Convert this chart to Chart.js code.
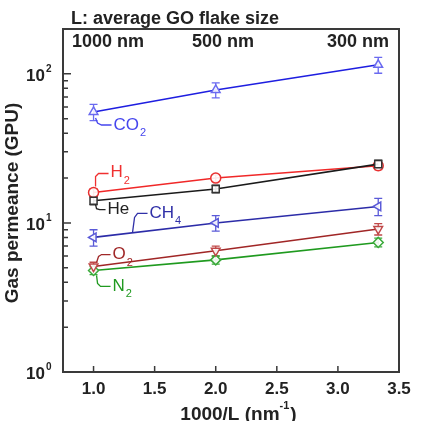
<!DOCTYPE html>
<html>
<head>
<meta charset="utf-8">
<script src="https://cdn.jsdelivr.net/npm/chart.js@4.4.0/dist/chart.umd.min.js"></script>
<style>
  html, body { margin: 0; padding: 0; background: #fff; }
  #wrap { width: 421px; height: 421px; }
</style>
</head>
<body>
<div id="wrap"><canvas id="gasChart" width="421" height="421"></canvas></div>
<script>
// x values: 1000/L for L = 1000, 500, 300 nm
var invL = [1.0, 2.0, 3.33];
var xTicks = [1.0, 1.5, 2.0, 2.5, 3.0, 3.5];
var yTicks = [1, 10, 100];
var flakeLabels = ['1000 nm', '500 nm', '300 nm'];

// permeance (GPU)
var co2 = [55.5, 78, 115];
var h2  = [16.0, 20.0, 24.2];
var he  = [14.1, 16.9, 24.8];
var ch4 = [8.0, 10.0, 12.9];
var o2  = [5.1, 6.5, 9.1];
var n2  = [4.8, 5.65, 7.4];

// error bars (+/- GPU)
var co2Err = [7, 9, 14];
var h2Err  = [0.9, 1.0, 1.4];
var heErr  = [0.9, 1.0, 1.6];
var ch4Err = [1.0, 1.2, 1.7];
var o2Err  = [0.35, 0.5, 0.8];
var n2Err  = [0.3, 0.35, 0.5];

var FONT = '"Liberation Sans", Arial, sans-serif';

function pts(vals) {
    return vals.map(function (v, i) { return { x: invL[i], y: v }; });
}

function series(label, vals, errs, line, mark, style, rot) {
    return {
        label: label,
        data: pts(vals),
        errors: errs,
        borderColor: line,
        borderWidth: 1.6,
        pointStyle: style,
        pointRotation: rot || 0,
        pointRadius: 5,
        pointBorderColor: mark,
        pointBackgroundColor: 'rgba(255,255,255,0.9)',
        pointBorderWidth: 1.5,
        markColor: mark,
        fill: false,
        tension: 0
    };
}

var datasets = [
    series('He', he, heErr, '#1a1a1a', '#333333', 'rect'),
    series('H2', h2, h2Err, '#f02828', '#e83030', 'circle'),
    series('CO2', co2, co2Err, '#1e1ee0', '#6a6af0', 'triangle'),
    series('CH4', ch4, ch4Err, '#2c2ca8', '#5a5ad8', 'triangle', -90),
    series('O2', o2, o2Err, '#a02626', '#c04848', 'triangle', 180),
    series('N2', n2, n2Err, '#1f9a1f', '#3aaa3a', 'rectRot')
];

// little names with leader lines, offsets relative to the first point of each series
var tags = [
    { ds: 2, main: 'CO', sub: '2', color: '#4646ee', path: [[2, 6], [4, 11], [8, 13], [18, 13]], tx: 20, ty: 13 },
    { ds: 1, main: 'H', sub: '2', color: '#f03030', path: [[2, -6], [2, -16], [5, -19], [15, -19]], tx: 17, ty: -20 },
    { ds: 0, main: 'He', sub: '', color: '#222222', path: [[2, 4], [3, 8], [6, 9], [12, 9]], tx: 14, ty: 9 },
    { ds: 3, main: 'CH', sub: '4', color: '#3030a8', path: [[39, -5], [41, -20], [44, -24], [54, -24]], tx: 56, ty: -24 },
    { ds: 4, main: 'O', sub: '2', color: '#a02828', path: [[3, -4], [5, -10], [8, -12], [17, -12]], tx: 19, ty: -12 },
    { ds: 5, main: 'N', sub: '2', color: '#209a20', path: [[3, 5], [4, 13], [7, 16], [17, 16]], tx: 19, ty: 16 }
];

var decorPlugin = {
    id: 'decor',
    beforeDatasetsDraw: function (chart) {
        var ctx = chart.ctx, xs = chart.scales.x, ys = chart.scales.y;
        ctx.save();
        chart.data.datasets.forEach(function (ds) {
            ctx.strokeStyle = ds.markColor;
            ctx.lineWidth = 1.3;
            ds.data.forEach(function (p, i) {
                var px = xs.getPixelForValue(p.x);
                var top = ys.getPixelForValue(p.y + ds.errors[i]);
                var bot = ys.getPixelForValue(p.y - ds.errors[i]);
                ctx.beginPath();
                ctx.moveTo(px, top); ctx.lineTo(px, bot);
                ctx.moveTo(px - 4, top); ctx.lineTo(px + 4, top);
                ctx.moveTo(px - 4, bot); ctx.lineTo(px + 4, bot);
                ctx.stroke();
            });
        });
        ctx.restore();
    },
    afterDraw: function (chart) {
        var ctx = chart.ctx, a = chart.chartArea;
        var xs = chart.scales.x, ys = chart.scales.y;
        ctx.save();

        // frame
        ctx.strokeStyle = '#3a3a3a';
        ctx.lineWidth = 2;
        ctx.strokeRect(a.left, a.top, a.right - a.left, a.bottom - a.top);

        // inward ticks
        ctx.lineWidth = 1.5;
        ctx.beginPath();
        xTicks.forEach(function (v) {
            var px = xs.getPixelForValue(v);
            ctx.moveTo(px, a.bottom); ctx.lineTo(px, a.bottom - 6);
        });
        for (var d = 0; d < 3; d++) {
            for (var k = 1; k <= 9; k++) {
                var val = k * Math.pow(10, d);
                if (val > ys.max) break;
                var py = ys.getPixelForValue(val);
                ctx.moveTo(a.left, py); ctx.lineTo(a.left + (k === 1 ? 8 : 5), py);
            }
        }
        ctx.stroke();

        ctx.fillStyle = '#222';
        // y tick labels 10^n
        yTicks.forEach(function (v, i) {
            var py = ys.getPixelForValue(v);
            ctx.font = 'bold 17px ' + FONT;
            ctx.textAlign = 'right';
            ctx.textBaseline = 'middle';
            ctx.fillText('10', 45, py + 2);
            ctx.font = 'bold 10px ' + FONT;
            ctx.textAlign = 'left';
            ctx.fillText(String(i), 46, py - 5);
        });

        // top labels
        ctx.font = 'bold 18px ' + FONT;
        ctx.textBaseline = 'middle';
        ctx.textAlign = 'left';
        ctx.fillText('L: average GO flake size', 71, 19);
        ctx.fillText(flakeLabels[0], 72, 42);
        ctx.fillText(flakeLabels[1], 192, 42);
        ctx.textAlign = 'right';
        ctx.fillText(flakeLabels[2], 389, 42);

        // x axis title
        ctx.font = 'bold 19px ' + FONT;
        ctx.textAlign = 'left';
        var t1 = '1000/L (nm', t2 = '-1', t3 = ')';
        var w1 = ctx.measureText(t1).width;
        ctx.font = 'bold 11px ' + FONT;
        var w2 = ctx.measureText(t2).width;
        ctx.font = 'bold 19px ' + FONT;
        var w3 = ctx.measureText(t3).width;
        var x0 = 238 - (w1 + w2 + w3) / 2;
        ctx.fillText(t1, x0, 415);
        ctx.fillText(t3, x0 + w1 + w2 + 1, 415);
        ctx.font = 'bold 11px ' + FONT;
        ctx.fillText(t2, x0 + w1, 406);

        // y axis title
        ctx.save();
        ctx.translate(13, 203);
        ctx.rotate(-Math.PI / 2);
        ctx.font = 'bold 19px ' + FONT;
        ctx.textAlign = 'center';
        ctx.fillText('Gas permeance (GPU)', 0, 0);
        ctx.restore();

        // gas names
        tags.forEach(function (t) {
            var p = chart.getDatasetMeta(t.ds).data[0];
            ctx.strokeStyle = t.color;
            ctx.fillStyle = t.color;
            ctx.lineWidth = 1.3;
            ctx.beginPath();
            t.path.forEach(function (o, j) {
                if (j === 0) ctx.moveTo(p.x + o[0], p.y + o[1]);
                else ctx.lineTo(p.x + o[0], p.y + o[1]);
            });
            ctx.stroke();
            ctx.font = '17px ' + FONT;
            ctx.textAlign = 'left';
            ctx.textBaseline = 'middle';
            ctx.fillText(t.main, p.x + t.tx, p.y + t.ty);
            var w = ctx.measureText(t.main).width;
            if (t.sub) {
                ctx.font = '11px ' + FONT;
                ctx.fillText(t.sub, p.x + t.tx + w + 1, p.y + t.ty + 8);
            }
        });
        ctx.restore();
    }
};

new Chart(document.getElementById('gasChart').getContext('2d'), {
    type: 'line',
    data: { datasets: datasets },
    options: {
        responsive: false,
        animation: false,
        layout: { padding: { top: 29, right: 22, left: 0, bottom: 0 } },
        plugins: { legend: { display: false }, tooltip: { enabled: false } },
        scales: {
            x: {
                type: 'linear',
                min: 0.75,
                max: 3.5,
                afterBuildTicks: function (scale) {
                    scale.ticks = xTicks.map(function (v) { return { value: v }; });
                },
                afterFit: function (scale) { scale.height = 49; },
                grid: { display: false, drawTicks: false },
                border: { display: false },
                ticks: {
                    padding: 7,
                    color: '#222',
                    font: { family: FONT, size: 17, weight: 'bold' },
                    callback: function (v) { return Number(v).toFixed(1); }
                }
            },
            y: {
                type: 'logarithmic',
                min: 1,
                max: 200,
                afterFit: function (scale) { scale.width = 63; },
                grid: { display: false, drawTicks: false },
                border: { display: false },
                ticks: { display: false }
            }
        }
    },
    plugins: [decorPlugin]
});
</script>
</body>
</html>
